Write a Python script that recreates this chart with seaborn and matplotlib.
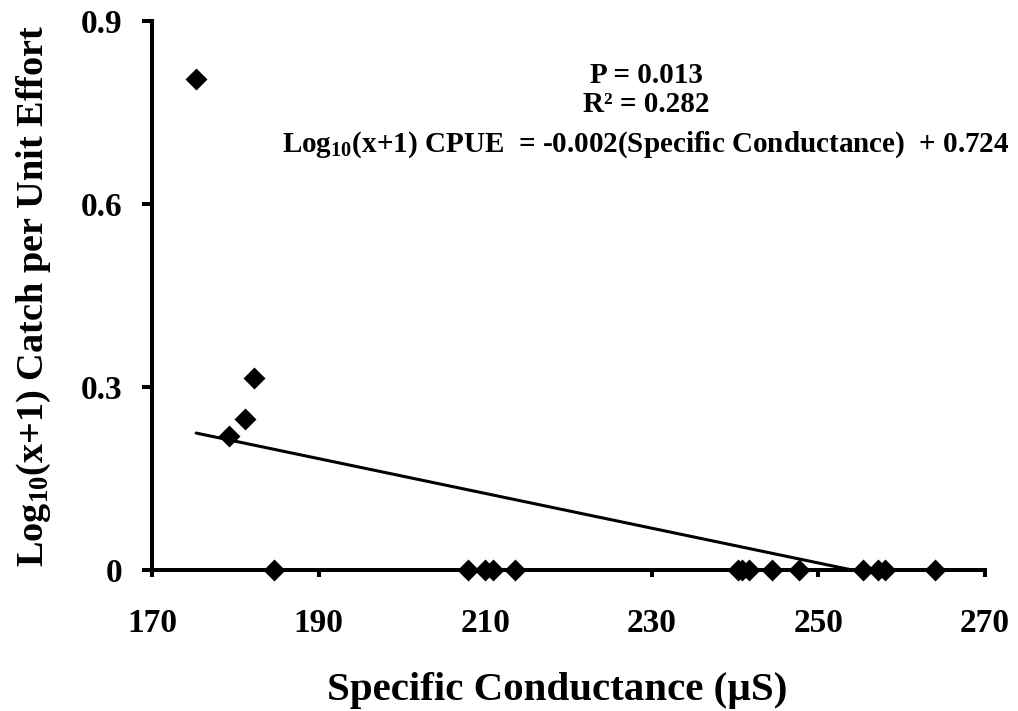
import numpy as np
import pandas as pd
import matplotlib
matplotlib.use("Agg")
import matplotlib.pyplot as plt
import seaborn as sns

# Specific conductance (µS) and log10(x+1) catch per unit effort
conductance = [175.3, 179.3, 181.2, 182.3, 184.7, 207.9, 210.0, 210.9, 213.6,
               240.3, 240.8, 241.7, 244.4, 247.7, 255.3, 257.1, 258.0, 264.0]
log_cpue = [0.804, 0.219, 0.248, 0.315, 0.0, 0.0, 0.0, 0.0, 0.0,
            0.0, 0.0, 0.0, 0.0, 0.0, 0.0, 0.0, 0.0, 0.0]

# Fitted regression
slope = -0.00285
intercept = 0.724
p_value = "0.013"
r_squared = "0.282"

x_ticks = [170, 190, 210, 230, 250, 270]
y_ticks = [0, 0.3, 0.6, 0.9]
y_tick_labels = ["0", "0.3", "0.6", "0.9"]

sns.set_theme(style="ticks")
plt.rcParams["font.family"] = ["Liberation Serif", "DejaVu Serif"]
plt.rcParams["font.weight"] = "bold"
plt.rcParams["mathtext.fontset"] = "custom"
plt.rcParams["mathtext.rm"] = "Liberation Serif:bold"
plt.rcParams["mathtext.it"] = "Liberation Serif:bold"
plt.rcParams["mathtext.bf"] = "Liberation Serif:bold"

df = pd.DataFrame({"conductance": conductance, "log_cpue": log_cpue})
fit_x = np.array([min(conductance), max(conductance)])
fit_df = pd.DataFrame({"conductance": fit_x, "fit": slope * fit_x + intercept})

fig = plt.figure(figsize=(10.18, 7.11), dpi=100)
ax = fig.add_axes([0.1493, 0.1983, 0.8183, 0.7726])

sns.lineplot(data=fit_df, x="conductance", y="fit", ax=ax, color="black",
             linewidth=2.2, zorder=2)
sns.scatterplot(data=df, x="conductance", y="log_cpue", ax=ax, marker="D",
                s=125, color="black", edgecolor="black", linewidth=0,
                zorder=3, clip_on=False)

ax.set_xlim(170, 270)
ax.set_ylim(0, 0.9)
ax.set_xticks(x_ticks)
ax.set_xticklabels([str(t) for t in x_ticks])
ax.set_yticks(y_ticks)
ax.set_yticklabels(y_tick_labels)

for side in ["top", "right"]:
    ax.spines[side].set_visible(False)
for side in ["left", "bottom"]:
    ax.spines[side].set_linewidth(2.9)
    ax.spines[side].set_color("black")

ax.tick_params(axis="x", direction="out", length=5, width=2.9, pad=22,
               labelsize=24, colors="black")
ax.tick_params(axis="y", direction="out", length=7, width=2.9, pad=14,
               labelsize=24, colors="black")
for lab in ax.get_xticklabels() + ax.get_yticklabels():
    lab.set_fontweight("bold")

ax.set_xlabel("Specific Conductance (µS)", fontsize=29.5, fontweight="bold",
              labelpad=24, color="black")
ax.xaxis.label.set_x(0.487)
ax.set_ylabel("Log$_{10}$(x+1) Catch per Unit Effort", fontsize=27.5,
              fontweight="bold", labelpad=20, color="black")

# Regression statistics
stat_lines = [
    (f"P = {p_value}", 0.901),
    (f"R² = {r_squared}", 0.848),
    ("Log$_{10}$(x+1) CPUE  = -0.002(Specific Conductance)  + 0.724", 0.774),
]
for txt, ypos in stat_lines:
    ax.text(0.593, ypos, txt, transform=ax.transAxes, ha="center",
            va="center", fontsize=21, fontweight="bold", color="black")

fig.savefig("out.png", dpi=100)
